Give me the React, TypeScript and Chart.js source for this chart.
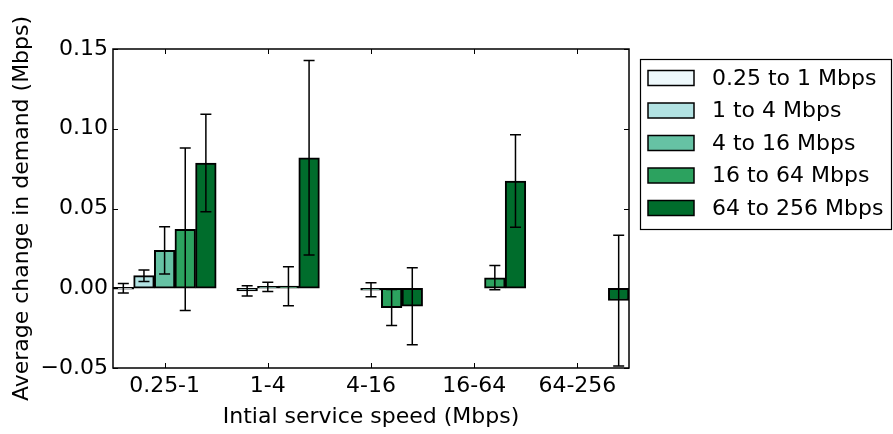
import { useEffect, useRef } from "react";
import { Chart, registerables } from "chart.js";

Chart.register(...registerables);

const categories = ["0.25-1", "1-4", "4-16", "16-64", "64-256"];
const seriesLabels = ["0.25 to 1 Mbps", "1 to 4 Mbps", "4 to 16 Mbps", "16 to 64 Mbps", "64 to 256 Mbps"];
const seriesColors = ["#edf8fb", "#b2e2e2", "#66c2a4", "#2ca25f", "#006d2c"];

// mean change in demand per initial tier (null = no bar)
const to1Values = [0.0, null, null, null, null];
const to4Values = [0.0079, -0.0016, null, null, null];
const to16Values = [0.0238, 0.0008, -0.0009, null, null];
const to64Values = [0.037, 0.0013, -0.0121, 0.0066, null];
const to256Values = [0.0785, 0.0818, -0.0113, 0.0672, -0.0077];

// symmetric error half-widths
const to1Errors = [0.003, null, null, null, null];
const to4Errors = [0.0036, 0.0032, null, null, null];
const to16Errors = [0.0148, 0.0029, 0.0044, null, null];
const to64Errors = [0.051, 0.0122, 0.0113, 0.0076, null];
const to256Errors = [0.0306, 0.061, 0.0242, 0.029, 0.041];

const yTickValues = [-0.05, 0.0, 0.05, 0.1, 0.15];

const xTitle = "Intial service speed (Mbps)";
const yTitle = "Average change in demand (Mbps)";

const FONT = "DejaVu Sans";

const allValues = [to1Values, to4Values, to16Values, to64Values, to256Values];
const allErrors = [to1Errors, to4Errors, to16Errors, to64Errors, to256Errors];

const decorPlugin = {
  id: "decor",
  afterDatasetsDraw(chart: any) {
    const ctx = chart.ctx;
    const yScale = chart.scales.y;
    ctx.save();
    ctx.strokeStyle = "#000";
    ctx.lineWidth = 1.5;
    allErrors.forEach((errs, i) => {
      const meta = chart.getDatasetMeta(i);
      errs.forEach((e, j) => {
        const v = allValues[i][j];
        if (v === null || e === null) return;
        const el = meta.data[j];
        if (!el) return;
        const x = el.x;
        const yHi = yScale.getPixelForValue(v + e);
        const yLo = yScale.getPixelForValue(v - e);
        ctx.beginPath();
        ctx.moveTo(x, yHi);
        ctx.lineTo(x, yLo);
        ctx.moveTo(x - 5.5, yHi);
        ctx.lineTo(x + 5.5, yHi);
        ctx.moveTo(x - 5.5, yLo);
        ctx.lineTo(x + 5.5, yLo);
        ctx.stroke();
      });
    });
    ctx.restore();
  },
  afterDraw(chart: any) {
    const ctx = chart.ctx;
    const { left, right, top, bottom } = chart.chartArea;
    const xScale = chart.scales.x;
    const yScale = chart.scales.y;
    ctx.save();
    ctx.strokeStyle = "#000";
    ctx.lineWidth = 1.5;
    ctx.strokeRect(left, top, right - left, bottom - top);
    ctx.lineWidth = 1;
    const tl = 5;
    ctx.beginPath();
    categories.forEach((_, i) => {
      const x = Math.round(xScale.getPixelForTick(i)) + 0.5;
      ctx.moveTo(x, bottom);
      ctx.lineTo(x, bottom - tl);
      ctx.moveTo(x, top);
      ctx.lineTo(x, top + tl);
    });
    yTickValues.forEach((v) => {
      const y = Math.round(yScale.getPixelForValue(v)) + 0.5;
      ctx.moveTo(left, y);
      ctx.lineTo(left + tl, y);
      ctx.moveTo(right, y);
      ctx.lineTo(right - tl, y);
    });
    ctx.stroke();

    // legend
    const lx = 640.5, ly = 59.5, lw = 251, lh = 170;
    ctx.fillStyle = "#fff";
    ctx.fillRect(lx, ly, lw, lh);
    ctx.lineWidth = 1.2;
    ctx.strokeRect(lx, ly, lw, lh);
    ctx.font = `22px "${FONT}"`;
    ctx.textBaseline = "middle";
    ctx.textAlign = "left";
    seriesLabels.forEach((lab, i) => {
      const cy = 78 + i * 32.5;
      ctx.fillStyle = seriesColors[i];
      ctx.fillRect(648, cy - 7.5, 46, 15);
      ctx.strokeStyle = "#000";
      ctx.lineWidth = 1.5;
      ctx.strokeRect(648, cy - 7.5, 46, 15);
      ctx.fillStyle = "#000";
      ctx.fillText(lab, 712, cy + 1);
    });
    ctx.restore();
  },
};

export default function App() {
  const ref = useRef<HTMLCanvasElement | null>(null);
  useEffect(() => {
    if (!ref.current) return;
    const chart = new Chart(ref.current, {
      type: "bar",
      data: {
        labels: categories,
        datasets: allValues.map((vals, i) => ({
          label: seriesLabels[i],
          data: vals,
          backgroundColor: seriesColors[i],
          borderColor: "#000",
          borderWidth: 2,
          borderSkipped: false,
          minBarLength: 2,
          categoryPercentage: 1,
          barPercentage: 1,
        })),
      },
      options: {
        animation: false,
        responsive: false,
        devicePixelRatio: 1,
        layout: { padding: { left: 0, top: 49, right: 264, bottom: 0 } },
        plugins: { legend: { display: false }, tooltip: { enabled: false } },
        scales: {
          x: {
            offset: true,
            grid: { display: false, drawTicks: false },
            border: { display: false },
            ticks: { color: "#000", font: { family: FONT, size: 22 }, padding: 5, maxRotation: 0 },
            title: { display: true, text: xTitle, color: "#000", font: { family: FONT, size: 22 }, padding: { top: 0, bottom: 4 } },
            afterFit: (s: any) => { s.height = 66; },
          },
          y: {
            min: -0.05,
            max: 0.15,
            grid: { display: false, drawTicks: false },
            border: { display: false },
            afterBuildTicks: (s: any) => { s.ticks = yTickValues.map((v) => ({ value: v })); },
            ticks: {
              color: "#000",
              font: { family: FONT, size: 22 },
              padding: 5,
              callback: (v: any) => Number(v).toFixed(2).replace("-", "\u2212"),
            },
            title: { display: true, text: yTitle, color: "#000", font: { family: FONT, size: 22 }, padding: { top: 9, bottom: 0 } },
            afterFit: (s: any) => { s.width = 113; },
          },
        },
      },
      plugins: [decorPlugin],
    });
    return () => chart.destroy();
  }, []);
  return (
    <div style={{ position: "fixed", left: 0, top: 0, width: 893, height: 434, background: "#fff" }}>
      <canvas ref={ref} width={893} height={434} style={{ display: "block" }} />
    </div>
  );
}
